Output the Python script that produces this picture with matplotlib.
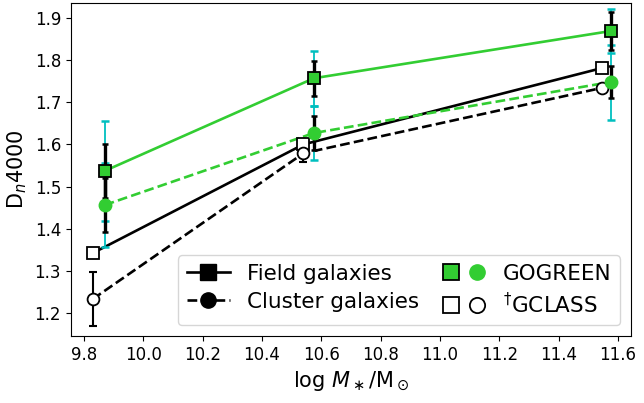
import matplotlib
matplotlib.use("Agg")
import matplotlib.pyplot as plt
from matplotlib.lines import Line2D
from matplotlib.legend_handler import HandlerTuple

GREEN = "limegreen"
CYAN = "c"

# GOGREEN (green), field = squares, cluster = circles
gg_x = [9.87, 10.575, 11.575]
gg_field_y = [1.537, 1.757, 1.869]
gg_field_err = [0.065, 0.042, 0.045]      # black (thick)
gg_field_err_tot = [0.118, 0.065, 0.052]  # cyan
gg_clus_y = [1.456, 1.627, 1.748]
gg_clus_err = [0.064, 0.040, 0.037]
gg_clus_err_tot = [0.100, 0.065, 0.089]

# GCLASS (open markers)
gc_x = [9.83, 10.54, 11.545]
gc_field_y = [1.342, 1.600, 1.781]
gc_clus_y = [1.233, 1.579, 1.734]
gc_clus_err = [0.064, 0.020, 0.0]

XTICKS = [9.8, 10.0, 10.2, 10.4, 10.6, 10.8, 11.0, 11.2, 11.4, 11.6]
YTICKS = [1.2, 1.3, 1.4, 1.5, 1.6, 1.7, 1.8, 1.9]

fig = plt.figure(figsize=(6.44, 4.03), dpi=100)
ax = fig.add_axes([0.110, 0.166, 0.870, 0.827])

# GCLASS
ax.plot(gc_x, gc_field_y, "-", color="k", lw=1.9, zorder=2)
ax.plot(gc_x, gc_clus_y, "--", color="k", lw=1.9, zorder=2)
ax.errorbar(gc_x, gc_clus_y, yerr=gc_clus_err, fmt="none", ecolor="k",
            elinewidth=1.5, capsize=3, capthick=1.5, zorder=3)
ax.plot(gc_x, gc_field_y, "s", mfc="w", mec="k", mew=1.3, ms=8, zorder=5)
ax.plot(gc_x, gc_clus_y, "o", mfc="w", mec="k", mew=1.3, ms=8.5, zorder=5)

# GOGREEN
ax.plot(gg_x, gg_field_y, "-", color=GREEN, lw=1.9, zorder=2)
ax.plot(gg_x, gg_clus_y, "--", color=GREEN, lw=1.9, zorder=2)
for y, e in [(gg_field_y, gg_field_err_tot), (gg_clus_y, gg_clus_err_tot)]:
    ax.errorbar(gg_x, y, yerr=e, fmt="none", ecolor=CYAN, elinewidth=1.3,
                capsize=3, capthick=1.8, zorder=3)
for y, e in [(gg_field_y, gg_field_err), (gg_clus_y, gg_clus_err)]:
    ax.errorbar(gg_x, y, yerr=e, fmt="none", ecolor="k", elinewidth=2.4,
                capsize=2.5, capthick=1.8, zorder=4)
ax.plot(gg_x, gg_field_y, "s", mfc=GREEN, mec="k", mew=1.3, ms=8, zorder=6)
ax.plot(gg_x, gg_clus_y, "o", mfc=GREEN, mec=GREEN, ms=9, zorder=6)

ax.set_xlim(9.756, 11.644)
ax.set_ylim(1.145, 1.936)
ax.set_xticks(XTICKS)
ax.set_yticks(YTICKS)
ax.tick_params(labelsize=12)
ax.set_xlabel(r"log $M_\ast$/M$_\odot$", fontsize=15)
ax.set_ylabel(r"D$_n$4000", fontsize=15)

h_field = Line2D([0], [0], color="k", ls="-", lw=1.9, marker="s", ms=11)
h_clus = Line2D([0], [0], color="k", ls="--", lw=1.9, marker="o", ms=11)
gg_sq = Line2D([0], [0], ls="", marker="s", mfc=GREEN, mec="k", mew=1.3, ms=11)
gg_ci = Line2D([0], [0], ls="", marker="o", mfc=GREEN, mec=GREEN, ms=11)
gc_sq = Line2D([0], [0], ls="", marker="s", mfc="w", mec="k", mew=1.3, ms=11)
gc_ci = Line2D([0], [0], ls="", marker="o", mfc="w", mec="k", mew=1.3, ms=11)
ax.legend([h_field, h_clus, (gg_sq, gg_ci), (gc_sq, gc_ci)],
          ["Field galaxies", "Cluster galaxies", "GOGREEN", r"$^{\dagger}$GCLASS"],
          ncol=2, loc="lower right", fontsize=15.5,
          handler_map={tuple: HandlerTuple(ndivide=None)},
          handlelength=2.0, columnspacing=1.1, borderpad=0.4, labelspacing=0.35)

fig.savefig("out.png", dpi=100)
